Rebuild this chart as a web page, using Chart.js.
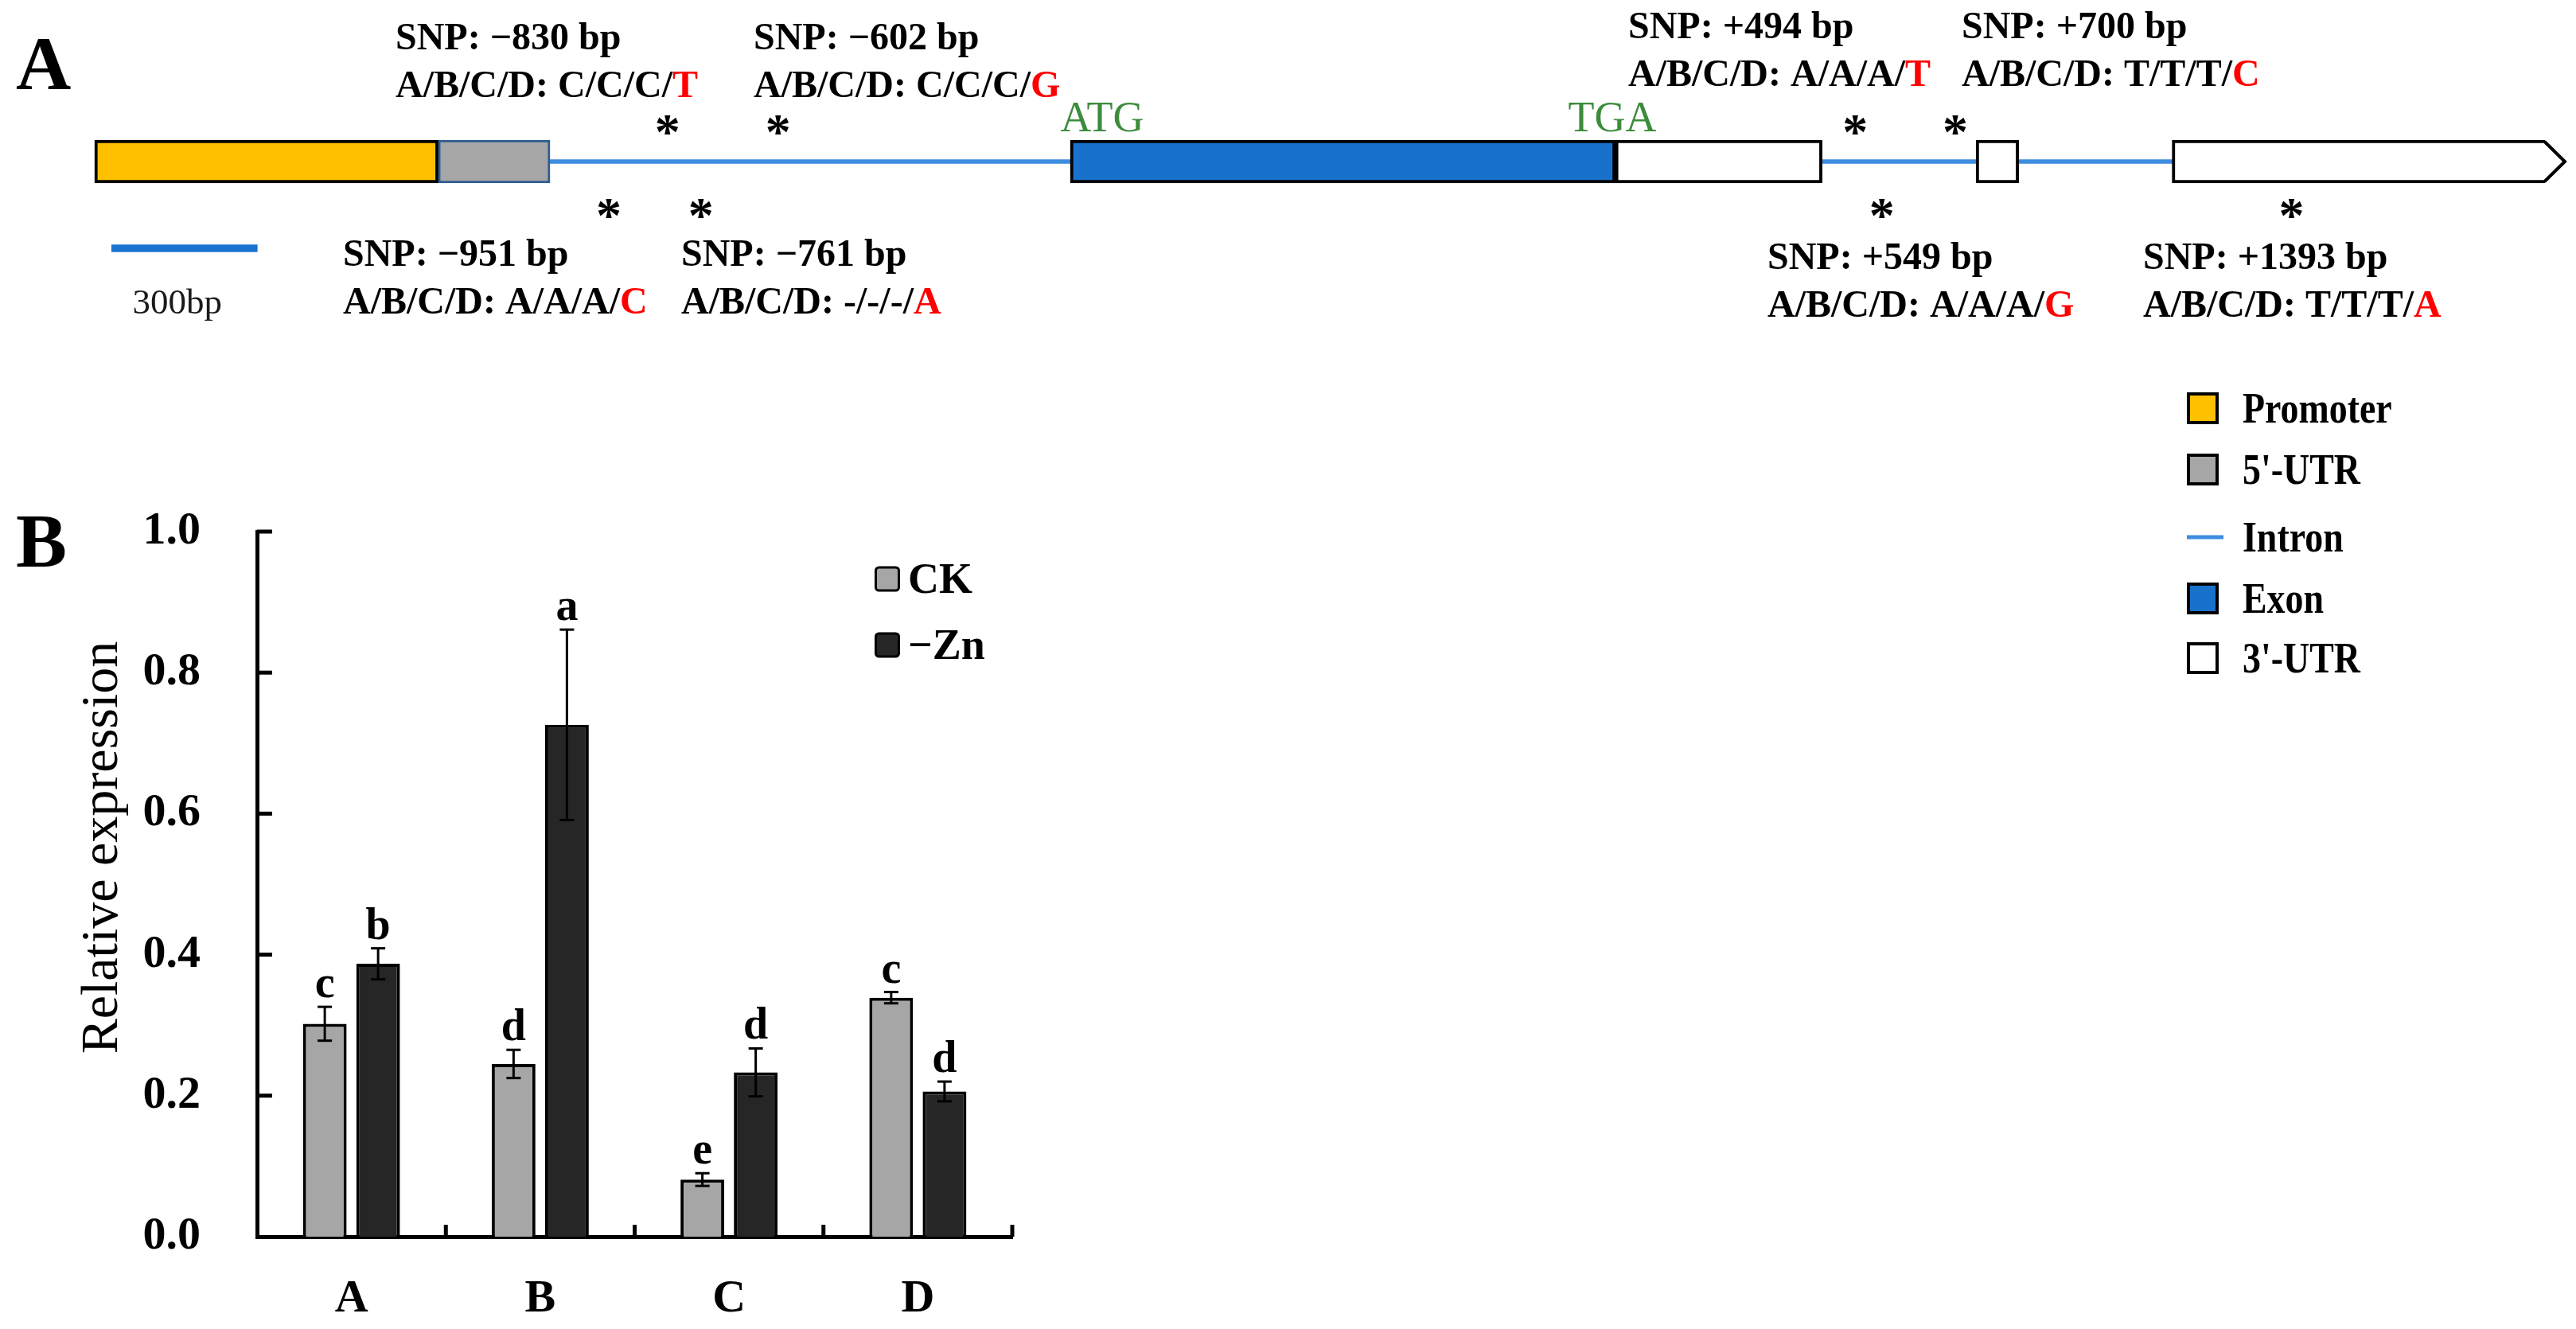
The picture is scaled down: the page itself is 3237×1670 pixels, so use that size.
<!DOCTYPE html>
<html><head><meta charset="utf-8">
<script src="https://cdn.jsdelivr.net/npm/chart.js@4"></script>
<style>
html,body{margin:0;padding:0;background:#fff;}
#wrap{position:relative;width:3237px;height:1670px;background:#fff;}
canvas{position:absolute;left:0;top:0;}
</style></head><body>
<div id="wrap"><canvas id="b" width="3237" height="1670"></canvas><canvas id="a" width="3237" height="1670"></canvas></div>
<script>
// ---------- Panel B data ----------
const genotypes = ['A', 'B', 'C', 'D'];
const seriesNames = ['CK', '\u2212Zn'];
const ckMean = [0.302, 0.245, 0.081, 0.339];
const ckErr = [0.024, 0.020, 0.009, 0.008];
const ckLetters = ['c', 'd', 'e', 'c'];
const znMean = [0.387, 0.726, 0.233, 0.206];
const znErr = [0.022, 0.135, 0.034, 0.014];
const znLetters = ['b', 'a', 'd', 'd'];
const yTicks = [0, 0.2, 0.4, 0.6, 0.8, 1.0];

// ---------- Panel A data (diagram units, bp; ATG = 0) ----------
const partNames = ['Promoter', "5'-UTR", 'Exon', "3'-UTR", "3'-UTR", "3'-UTR"];
const partStart = [-2010, -1302, 0, 1123, 1866, 2270];
const partEnd = [-1302, -1072, 1123, 1549, 1954, 3039];
const intronSpan = [-1072, 2270];
const cdsEnd = 1123;            // stop codon (TGA) position
const snpPos = [-951, -830, -761, -602, 494, 549, 700, 1393]; // upstream: from ATG, downstream: from TGA
const snpABC = ['A', 'C', '-', 'C', 'A', 'A', 'T', 'T'];
const snpD = ['C', 'T', 'A', 'G', 'T', 'G', 'C', 'A'];
const scaleBarBp = 300;
const legendA = ['Promoter', "5'-UTR", 'Intron', 'Exon', "3'-UTR"];

// ---------- styles / layout ----------
const SERIF = '"Liberation Serif", "Times New Roman", serif';
const COL = {promoter:'#ffc000', utr5:'#a6a6a6', exon:'#1872cc', utr3:'#ffffff', intron:'#3d8de0', scale:'#1a73d0',
             ck:'#a6a6a6', zn:'#262626', green:'#3c8c3c', red:'#ff0000'};
const partFill = [COL.promoter, COL.utr5, COL.exon, COL.utr3, COL.utr3, COL.utr3];
const partStroke = ['#000', '#2f5d8f', '#000', '#000', '#000', '#000'];
const partBw = [4, 3, 4, 4, 4, 4];
const legendAFill = [COL.promoter, COL.utr5, null, COL.exon, COL.utr3];
const LAY = {
  geneY: 203, geneH: 54, intronH: 5, scaleY: 312, scaleStart: -1975, arrowBp: 40,
  snpAbove: [false, true, false, true, true, false, true, false],
  snpLabelX: [431, 497, 856, 947, 2046, 2221, 2465, 2693],
  legendAY: [513, 590, 675, 752, 827], legendAX: 2748
};

function line(ctx, x1, y1, x2, y2) { ctx.beginPath(); ctx.moveTo(x1, y1); ctx.lineTo(x2, y2); ctx.stroke(); }
function txt(ctx, s, x, y, sx) {
  ctx.save(); ctx.translate(x, y); ctx.scale(sx, 1); ctx.fillText(s, 0, 0); ctx.restore();
}

const aDecor = {
  id: 'aDecor',
  afterDatasetsDraw(chart) {
    const ctx = chart.ctx, xs = chart.scales.x, ys = chart.scales.y;
    ctx.save();
    // arrow head of last 3'-UTR
    const last = partNames.length - 1;
    const xr = xs.getPixelForValue(partEnd[last]);
    const tip = xs.getPixelForValue(partEnd[last] + LAY.arrowBp);
    const cy = ys.getPixelForValue(LAY.geneY);
    const hh = LAY.geneH / 2 - 2;
    ctx.strokeStyle = '#000'; ctx.lineWidth = 4; ctx.lineJoin = 'miter';
    ctx.beginPath(); ctx.moveTo(xr - 1, cy - hh); ctx.lineTo(tip, cy); ctx.lineTo(xr - 1, cy + hh); ctx.stroke();

    // SNPs
    snpPos.forEach((p, i) => {
      const dx = p < 0 ? p : cdsEnd + p;
      const px = xs.getPixelForValue(dx);
      const above = LAY.snpAbove[i];
      const ay = above ? 157 : 262;
      ctx.font = 'bold 64px ' + SERIF; ctx.textAlign = 'center'; ctx.textBaseline = 'alphabetic';
      ctx.fillStyle = '#000';
      ctx.fillText('*', px, ay + 30);
      const lx = LAY.snpLabelX[i];
      const b1 = above ? (p < 0 ? 62 : 48) : (p < 0 ? 334 : 338);
      const b2 = b1 + 60;
      ctx.font = 'bold 48px ' + SERIF; ctx.textAlign = 'left';
      ctx.fillText('SNP: ' + (p < 0 ? '\u2212' : '+') + Math.abs(p) + ' bp', lx, b1);
      const pre = 'A/B/C/D: ' + [snpABC[i], snpABC[i], snpABC[i]].join('/') + '/';
      ctx.fillText(pre, lx, b2);
      const w = ctx.measureText(pre).width;
      ctx.fillStyle = COL.red; ctx.fillText(snpD[i], lx + w, b2);
    });

    // ATG / TGA
    ctx.fillStyle = COL.green; ctx.font = '54px ' + SERIF; ctx.textAlign = 'center';
    ctx.fillText('ATG', xs.getPixelForValue(0) + 40, 165);
    ctx.fillText('TGA', xs.getPixelForValue(cdsEnd) - 4, 165);

    // scale bar label
    ctx.fillStyle = '#1a1a1a'; ctx.font = '45px ' + SERIF;
    ctx.fillText(scaleBarBp + 'bp', (xs.getPixelForValue(LAY.scaleStart) + xs.getPixelForValue(LAY.scaleStart + scaleBarBp)) / 2 - 9, 394);

    // panel label
    ctx.fillStyle = '#000'; ctx.font = 'bold 96px ' + SERIF; ctx.textAlign = 'left';
    ctx.fillText('A', 20, 112);

    // legend
    legendA.forEach((name, i) => {
      const y = LAY.legendAY[i], x = LAY.legendAX;
      if (legendAFill[i] === null) {
        ctx.strokeStyle = COL.intron; ctx.lineWidth = 5; line(ctx, x, y, x + 46, y);
      } else {
        ctx.fillStyle = legendAFill[i]; ctx.fillRect(x, y - 20, 40, 40);
        ctx.strokeStyle = '#000'; ctx.lineWidth = 4; ctx.strokeRect(x + 2, y - 18, 36, 36);
      }
      ctx.fillStyle = '#000'; ctx.font = 'bold 54px ' + SERIF; ctx.textAlign = 'left';
      txt(ctx, name, x + 70, y + 18, 0.85);
    });
    ctx.restore();
  }
};

const bDecor = {
  id: 'bDecor',
  afterDraw(chart) {
    const ctx = chart.ctx, xs = chart.scales.x, ys = chart.scales.y, ca = chart.chartArea;
    ctx.save();
    ctx.strokeStyle = '#000'; ctx.fillStyle = '#000'; ctx.lineCap = 'butt';
    // inward y ticks
    ctx.lineWidth = 5;
    yTicks.forEach(v => { if (v === 0) return; const py = ys.getPixelForValue(v); line(ctx, ca.left, py, ca.left + 19, py); });
    // category boundary ticks
    const step = xs.getPixelForValue(1) - xs.getPixelForValue(0);
    genotypes.forEach((g, i) => { const px = xs.getPixelForValue(i) + step / 2; line(ctx, px, ca.bottom, px, ca.bottom - 15); });
    // error bars and letters
    const means = [ckMean, znMean], errs = [ckErr, znErr], letters = [ckLetters, znLetters];
    chart.data.datasets.forEach((ds, di) => {
      chart.getDatasetMeta(di).data.forEach((bar, i) => {
        const top = ys.getPixelForValue(means[di][i] + errs[di][i]);
        const bot = ys.getPixelForValue(means[di][i] - errs[di][i]);
        ctx.lineWidth = 3;
        line(ctx, bar.x, top, bar.x, bot);
        line(ctx, bar.x - 9, top, bar.x + 9, top);
        line(ctx, bar.x - 9, bot, bar.x + 9, bot);
        ctx.font = 'bold 56px ' + SERIF; ctx.textAlign = 'center'; ctx.textBaseline = 'alphabetic';
        ctx.fillText(letters[di][i], bar.x, top - 12);
      });
    });
    // legend
    const lgY = [727, 810], lgFill = [COL.ck, COL.zn];
    seriesNames.forEach((n, i) => {
      const x = 1099, y = lgY[i];
      ctx.beginPath(); ctx.roundRect(x + 1.5, y - 14, 29, 29, 4);
      ctx.fillStyle = lgFill[i]; ctx.fill(); ctx.lineWidth = 3; ctx.strokeStyle = '#000'; ctx.stroke();
      ctx.fillStyle = '#000'; ctx.font = 'bold 54px ' + SERIF; ctx.textAlign = 'left'; ctx.textBaseline = 'alphabetic';
      ctx.fillText(n, x + 42, y + 18);
    });
    // y title
    ctx.save(); ctx.translate(130, 1065); ctx.rotate(-Math.PI / 2);
    ctx.font = '66px ' + SERIF; ctx.textAlign = 'center'; ctx.textBaseline = 'middle';
    ctx.fillText('Relative expression', 0, 0); ctx.restore();
    // panel label
    ctx.font = 'bold 96px ' + SERIF; ctx.textAlign = 'left'; ctx.textBaseline = 'alphabetic';
    ctx.fillText('B', 20, 712);
    ctx.restore();
  }
};

function build() {
  new Chart(document.getElementById('b'), {
    type: 'bar',
    data: { labels: genotypes, datasets: [
      { label: seriesNames[0], data: ckMean, backgroundColor: COL.ck, borderColor: '#000', borderWidth: 4 },
      { label: seriesNames[1], data: znMean, backgroundColor: COL.zn, borderColor: '#000', borderWidth: 4 }
    ]},
    options: {
      responsive: false, animation: false, devicePixelRatio: 1, events: [],
      categoryPercentage: 0.565, barPercentage: 0.82,
      layout: { padding: { left: 0, top: 668, right: 3237 - 1272, bottom: 0 } },
      scales: {
        x: { grid: { display: false, drawTicks: false }, border: { display: true, color: '#000', width: 5 },
             ticks: { font: { family: SERIF, size: 58, weight: 'bold' }, color: '#000', padding: 44 },
             afterFit: s => { s.height = 116; } },
        y: { min: 0, max: 1, grid: { display: false, drawTicks: false }, border: { display: true, color: '#000', width: 5 },
             ticks: { stepSize: 0.2, callback: v => Number(v).toFixed(1), font: { family: SERIF, size: 58, weight: 'bold' }, color: '#000', padding: 71 },
             afterFit: s => { s.width = 323; } }
      },
      plugins: { legend: { display: false }, tooltip: { enabled: false } }
    },
    plugins: [bDecor]
  });

  new Chart(document.getElementById('a'), {
    type: 'bar',
    data: { datasets: [
      { label: 'Intron', data: [{ x: intronSpan, y: LAY.geneY }], backgroundColor: COL.intron, borderWidth: 0,
        barThickness: LAY.intronH, grouped: false, order: 3 },
      { label: 'Gene', data: partStart.map((s, i) => ({ x: [s, partEnd[i]], y: LAY.geneY })),
        backgroundColor: partFill, borderColor: partStroke, borderWidth: partBw,
        borderSkipped: c => (c.dataIndex === partNames.length - 1 ? 'right' : false),
        barThickness: LAY.geneH, grouped: false, order: 1 },
      { label: 'Scale', data: [{ x: [LAY.scaleStart, LAY.scaleStart + scaleBarBp], y: LAY.scaleY }], backgroundColor: COL.scale,
        borderWidth: 0, barThickness: 9, grouped: false, order: 2 }
    ]},
    options: {
      indexAxis: 'y', responsive: false, animation: false, devicePixelRatio: 1, events: [],
      layout: { padding: 0 },
      scales: {
        x: { type: 'linear', min: -2205, max: 3102, display: false, offset: false },
        y: { type: 'linear', min: 0, max: 1670, reverse: true, display: false, offset: false }
      },
      plugins: { legend: { display: false }, tooltip: { enabled: false } }
    },
    plugins: [aDecor]
  });
}

Promise.all([
  document.fonts.load('bold 48px "Liberation Serif"'),
  document.fonts.load('48px "Liberation Serif"')
]).then(build, build);
</script>
</body></html>
